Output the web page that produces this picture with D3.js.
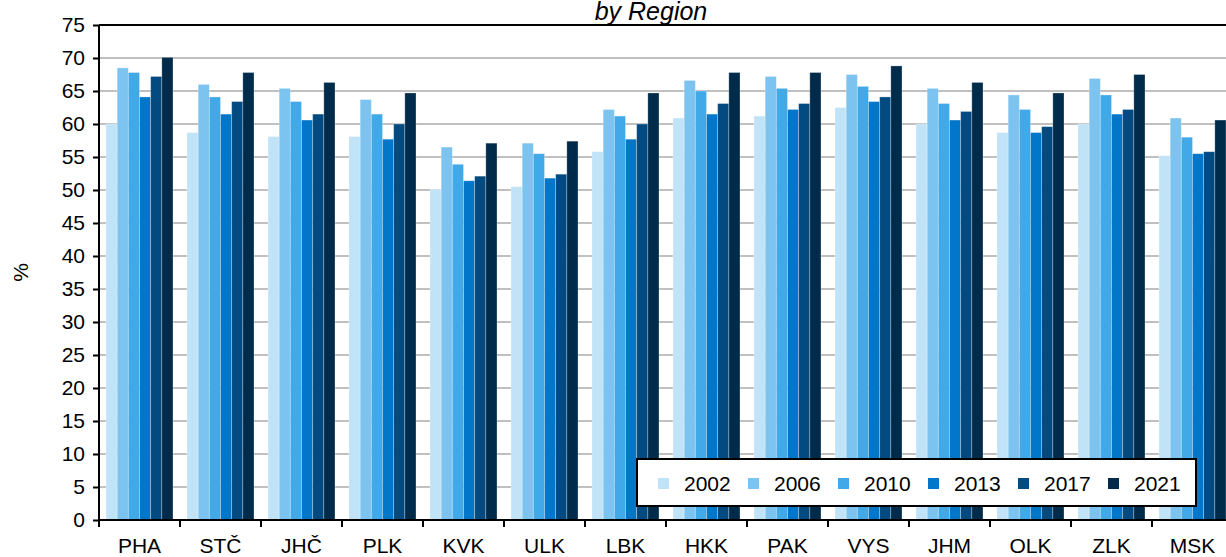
<!DOCTYPE html>
<html lang="en">
<head>
<meta charset="utf-8">
<title>by Region</title>
<script src="https://d3js.org/d3.v7.min.js"></script>
<style>
  body { margin: 0; background: #fff; }
  svg { display: block; font-family: "Liberation Sans", Arial, sans-serif; }
</style>
</head>
<body>
<script>
// data
var regions = ["PHA","STČ","JHČ","PLK","KVK","ULK","LBK","HKK","PAK","VYS","JHM","OLK","ZLK","MSK"];
var years = ["2002","2006","2010","2013","2017","2021"];
var v2002 = [60.0,58.7,58.1,58.1,50.1,50.5,55.8,60.9,61.2,62.5,60.0,58.7,60.0,55.2];
var v2006 = [68.5,66.0,65.4,63.7,56.5,57.1,62.2,66.6,67.2,67.5,65.4,64.4,66.9,60.9];
var v2010 = [67.8,64.1,63.4,61.5,53.9,55.5,61.2,65.0,65.4,65.7,63.1,62.2,64.4,58.0];
var v2013 = [64.1,61.5,60.6,57.7,51.4,51.8,57.7,61.5,62.2,63.4,60.6,58.7,61.5,55.5];
var v2017 = [67.2,63.4,61.5,60.0,52.1,52.4,60.0,63.1,63.1,64.1,61.9,59.6,62.2,55.8];
var v2021 = [70.1,67.8,66.3,64.7,57.1,57.4,64.7,67.8,67.8,68.8,66.3,64.7,67.5,60.6];
var series = [v2002, v2006, v2010, v2013, v2017, v2021];
var colors = ["#c1e3f7","#7cc3ef","#41a9e7","#0277c9","#024a80","#012b4b"];
var yTicks = d3.range(0, 76, 5);

var width = 1226, height = 557;
var plotLeft = 99, plotTop = 25, plotBottom = 520, band = 81;

var svg = d3.select("body").append("svg")
    .attr("width", width)
    .attr("height", height);

var x0 = d3.scaleBand()
    .domain(regions)
    .range([plotLeft, plotLeft + band * regions.length])
    .padding(0);

var x1 = d3.scaleBand()
    .domain(years)
    .range([7, band - 7])
    .padding(0);

var y = d3.scaleLinear()
    .domain([0, 75])
    .range([plotBottom, plotTop]);

// grid
svg.append("g")
  .selectAll("line")
  .data(yTicks.filter(function(d) { return d > 0 && d < 75; }))
  .enter().append("line")
    .attr("x1", plotLeft).attr("x2", width)
    .attr("y1", function(d) { return y(d); })
    .attr("y2", function(d) { return y(d); })
    .attr("stroke", "#c0c0c0")
    .attr("stroke-width", 2);

// top border
svg.append("line")
    .attr("x1", plotLeft).attr("x2", width)
    .attr("y1", y(75)).attr("y2", y(75))
    .attr("stroke", "#000").attr("stroke-width", 2);

// bars
var groups = svg.append("g")
  .selectAll("g")
  .data(regions)
  .enter().append("g")
    .attr("transform", function(d) { return "translate(" + x0(d) + ",0)"; });

groups.selectAll("rect")
  .data(function(d, i) { return years.map(function(yr, j) { return { year: yr, value: series[j][i], c: colors[j] }; }); })
  .enter().append("rect")
    .attr("x", function(d) { return x1(d.year); })
    .attr("width", x1.bandwidth())
    .attr("y", function(d) { return y(d.value); })
    .attr("height", function(d) { return plotBottom - y(d.value); })
    .attr("fill", function(d) { return d.c; })
    .attr("stroke", "#ffffff")
    .attr("stroke-opacity", 0.35)
    .attr("stroke-width", 0.8);

// y axis
var yAxis = svg.append("g")
    .attr("transform", "translate(" + plotLeft + ",0)")
    .call(d3.axisLeft(y).tickValues(yTicks).tickSize(6).tickPadding(8));
yAxis.select(".domain").attr("stroke-width", 2).attr("d", "M0," + plotTop + "V" + (plotBottom + 7));
yAxis.selectAll(".tick line").attr("stroke-width", 2);
yAxis.selectAll("text").attr("font-size", 21).attr("fill", "#000")
    .attr("font-family", "Liberation Sans, Arial, sans-serif");

// x axis
var xAxis = svg.append("g").attr("transform", "translate(0," + plotBottom + ")");
xAxis.append("line")
    .attr("x1", plotLeft).attr("x2", width)
    .attr("stroke", "#000").attr("stroke-width", 2);
xAxis.selectAll(".xt")
  .data(regions.slice(1))
  .enter().append("line")
    .attr("class", "xt")
    .attr("x1", function(d) { return x0(d); })
    .attr("x2", function(d) { return x0(d); })
    .attr("y1", 0).attr("y2", 7)
    .attr("stroke", "#000").attr("stroke-width", 2);
xAxis.selectAll("text")
  .data(regions)
  .enter().append("text")
    .attr("x", function(d) { return x0(d) + band / 2; })
    .attr("y", 33)
    .attr("text-anchor", "middle")
    .attr("font-size", 21)
    .text(function(d) { return d; });

// axis title
svg.append("text")
    .attr("transform", "translate(28," + ((plotTop + plotBottom) / 2) + ") rotate(-90)")
    .attr("text-anchor", "middle")
    .attr("font-size", 21)
    .text("%");

// chart title
svg.append("text")
    .attr("x", 651)
    .attr("y", 20)
    .attr("text-anchor", "middle")
    .attr("font-size", 25)
    .attr("font-style", "italic")
    .text("by Region");

// legend
var lg = svg.append("g").attr("transform", "translate(637,459)");
lg.append("rect")
    .attr("width", 559).attr("height", 47)
    .attr("fill", "#fff").attr("stroke", "#000").attr("stroke-width", 2);
var items = lg.selectAll(".item")
  .data(years)
  .enter().append("g")
    .attr("class", "item")
    .attr("transform", function(d, i) { return "translate(" + (21 + i * 90) + ",0)"; });
items.append("rect")
    .attr("y", 19).attr("width", 11).attr("height", 11)
    .attr("fill", function(d, i) { return colors[i]; });
items.append("text")
    .attr("x", 26).attr("y", 32)
    .attr("font-size", 21)
    .text(function(d) { return d; });
</script>
</body>
</html>
